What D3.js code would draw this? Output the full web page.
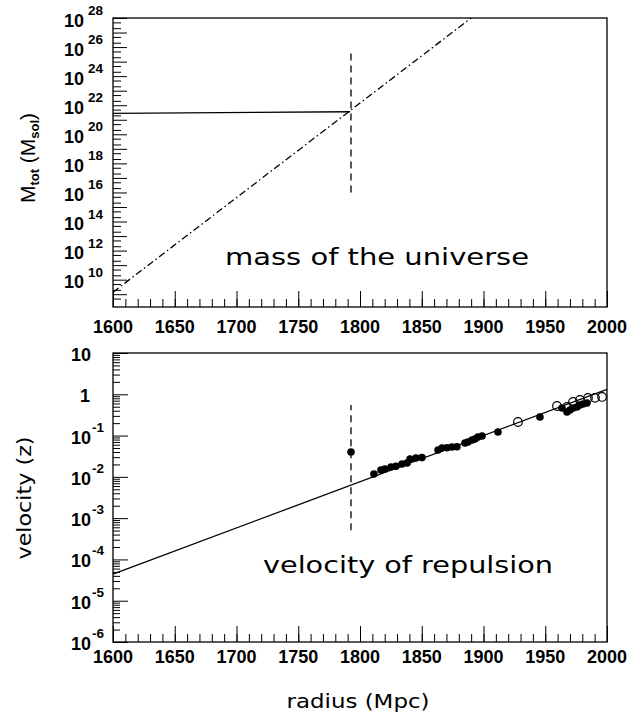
<!DOCTYPE html>
<html>
<head>
<meta charset="utf-8">
<script src="https://cdn.jsdelivr.net/npm/d3@7"></script>
<style>
  body { margin: 0; background: #fff; }
  text { fill: #000; }
</style>
</head>
<body>
<div id="chart"></div>
<script>
// tick labels
var radiusLabels = [1600, 1650, 1700, 1750, 1800, 1850, 1900, 1950, 2000];
var massExps = [10, 12, 14, 16, 18, 20, 22, 24, 26, 28];
var velExps = [1, 0, -1, -2, -3, -4, -5, -6];

// top panel: total mass (solid) and critical mass (dash-dot)
var massR = [1600, 1792];
var massTot = [2.75e21, 3.55e21];
var critR = [1600, 1890];
var critM = [1.38e9, 1e28];

// vertical dashed marker
var cutR = 1792.7;
var massCut = [1e16, 7.4e25];
var velCut = [5.1e-4, 0.55];

// bottom panel: fit line and measurements
var fitR = [1600, 2000];
var fitZ = [4.4e-5, 1.32];
var filledR = [1792.7, 1811.3, 1817.0, 1820.2, 1825.1, 1829.1, 1834.0, 1838.1, 1840.5, 1845.3, 1850.2,
               1863.2, 1866.4, 1870.4, 1874.5, 1878.5, 1885.0, 1887.4, 1890.7, 1893.1, 1895.5, 1898.8,
               1911.7, 1945.7, 1963.6, 1967.6, 1970.0, 1972.5, 1975.7, 1978.1, 1980.6, 1983.8];
var filledZ = [0.0401, 0.01175, 0.01469, 0.01552, 0.01738, 0.0180, 0.0205, 0.0217, 0.0271, 0.0287, 0.0293,
               0.0448, 0.0501, 0.0505, 0.0530, 0.0535, 0.0662, 0.0700, 0.0782, 0.0828, 0.0925, 0.0977,
               0.122, 0.282, 0.466, 0.372, 0.417, 0.466, 0.492, 0.551, 0.582, 0.615];
var openR = [1927.9, 1959.5, 1967.6, 1972.5, 1978.1, 1984.6, 1990.3, 1996.0];
var openZ = [0.213, 0.521, 0.492, 0.652, 0.728, 0.813, 0.82, 0.861];

var W = 630, H = 715;
var svg = d3.select("#chart").append("svg")
    .attr("width", W).attr("height", H)
    .style("font-family", "'Liberation Sans', Arial, sans-serif");

var x = d3.scaleLinear().domain([1600, 2000]).range([113, 607]);
var yTop = d3.scaleLog().domain([1.32e8, 1e28]).range([307, 18]);
var yBot = d3.scaleLog().domain([1e-6, 10]).range([642, 353]);

var roundFont = "'DejaVu Sans', 'Liberation Sans', sans-serif";

function frame(y) {
  var r = y.range();
  svg.append("rect")
      .attr("x", x(1600)).attr("y", r[1])
      .attr("width", x(2000) - x(1600)).attr("height", r[0] - r[1])
      .attr("fill", "none").attr("stroke", "#000").attr("stroke-width", 1.3);
}

function xAxis(y, labelY) {
  var base = y.range()[0];
  var major = svg.append("g").attr("transform", "translate(0," + base + ")")
      .call(d3.axisBottom(x).tickValues(radiusLabels).tickSize(-16).tickFormat(""));
  var minor = svg.append("g").attr("transform", "translate(0," + base + ")")
      .call(d3.axisBottom(x).tickValues(d3.range(1600, 2001, 10)).tickSize(-8).tickFormat(""));
  [major, minor].forEach(function(g) {
    g.select(".domain").remove();
    g.selectAll("line").attr("stroke", "#000").attr("stroke-width", 1);
  });
  svg.append("g").selectAll("text")
    .data(radiusLabels)
    .enter().append("text")
      .attr("x", function(d) { return x(d); })
      .attr("y", labelY)
      .attr("text-anchor", "middle")
      .style("font-size", "18px").style("font-weight", "bold")
      .text(function(d) { return d; });
}

function yTicks(y, majorVals, minorVals, majLen, minLen) {
  var left = x(1600);
  var g1 = svg.append("g").attr("transform", "translate(" + left + ",0)")
      .call(d3.axisLeft(y).tickValues(majorVals).tickSize(-majLen).tickFormat(""));
  var g2 = svg.append("g").attr("transform", "translate(" + left + ",0)")
      .call(d3.axisLeft(y).tickValues(minorVals).tickSize(-minLen).tickFormat(""));
  [g1, g2].forEach(function(g) {
    g.select(".domain").remove();
    g.selectAll("line").attr("stroke", "#000").attr("stroke-width", 1);
  });
}

// stretched plain label, like the wide round font of the original
function wideText(px, py, len, size, str, rot) {
  return svg.append("text")
      .attr("transform", "translate(" + px + "," + py + ")" + (rot ? " rotate(-90)" : ""))
      .attr("text-anchor", "middle")
      .attr("textLength", len).attr("lengthAdjust", "spacingAndGlyphs")
      .style("font-family", roundFont).style("font-size", size + "px")
      .text(str);
}

// ---------- top panel ----------
var topMajor = [], topMinor = [];
for (var e = 9; e <= 28; e++) {
  topMajor.push(Math.pow(10, e));
  if (e < 28) { topMinor.push(2 * Math.pow(10, e)); topMinor.push(5 * Math.pow(10, e)); }
}
topMinor.push(5e8);
yTicks(yTop, topMajor, topMinor, 14, 8);
frame(yTop);
xAxis(yTop, 333);

var massLab = svg.append("g").selectAll("g")
  .data(massExps).enter().append("g");
massLab.append("text")
    .attr("x", 84).attr("y", function(d) { return yTop(Math.pow(10, d)) + 8.5; })
    .attr("text-anchor", "end")
    .style("font-size", "18px").style("font-weight", "bold")
    .text("10");
massLab.append("text")
    .attr("x", 88).attr("y", function(d) { return yTop(Math.pow(10, d)) - 3; })
    .style("font-size", "13.5px").style("font-weight", "bold")
    .text(function(d) { return d; });

var lineTop = d3.line()
    .x(function(d) { return x(d[0]); })
    .y(function(d) { return yTop(d[1]); });

svg.append("path")
    .datum(d3.zip(massR, massTot))
    .attr("d", lineTop)
    .attr("fill", "none").attr("stroke", "#000").attr("stroke-width", 1.3);

svg.append("path")
    .datum(d3.zip(critR, critM))
    .attr("d", lineTop)
    .attr("fill", "none").attr("stroke", "#000").attr("stroke-width", 1.3)
    .attr("stroke-dasharray", "7,3,1.5,3");

svg.append("line")
    .attr("x1", x(cutR)).attr("x2", x(cutR))
    .attr("y1", yTop(massCut[0])).attr("y2", yTop(massCut[1]))
    .attr("stroke", "#000").attr("stroke-width", 1.3)
    .attr("stroke-dasharray", "7,5");

wideText(377, 265, 304, 23, "mass of the universe");

// y title top
var tTop = svg.append("text")
    .attr("transform", "translate(35,158) rotate(-90)")
    .attr("text-anchor", "middle")
    .style("font-size", "21px");
tTop.append("tspan").text("M");
tTop.append("tspan").attr("dy", 4).style("font-size", "13px").style("font-weight", "bold").text("tot");
tTop.append("tspan").attr("dy", -4).text(" (M");
tTop.append("tspan").attr("dy", 4).style("font-size", "13px").style("font-weight", "bold").text("sol");
tTop.append("tspan").attr("dy", -4).text(")");

// ---------- bottom panel ----------
var botMajor = [], botMinor = [];
for (var k = -6; k <= 1; k++) {
  botMajor.push(Math.pow(10, k));
  if (k < 1) for (var m = 2; m <= 9; m++) botMinor.push(m * Math.pow(10, k));
}
yTicks(yBot, botMajor, botMinor, 15, 7);
frame(yBot);
xAxis(yBot, 663);

var velLab = svg.append("g").selectAll("g")
  .data(velExps).enter().append("g");
velLab.append("text")
    .attr("x", function(d) { return d === 0 ? 90 : 91; })
    .attr("y", function(d) { return yBot(Math.pow(10, d)) + 8; })
    .attr("text-anchor", "end")
    .style("font-size", "18px").style("font-weight", "bold")
    .text(function(d) { return d === 0 ? "1" : "10"; });
velLab.filter(function(d) { return d < 0; }).append("text")
    .attr("x", 92).attr("y", function(d) { return yBot(Math.pow(10, d)) - 4; })
    .style("font-size", "13.5px").style("font-weight", "bold")
    .text(function(d) { return d; });

var lineBot = d3.line()
    .x(function(d) { return x(d[0]); })
    .y(function(d) { return yBot(d[1]); });

svg.append("path")
    .datum(d3.zip(fitR, fitZ))
    .attr("d", lineBot)
    .attr("fill", "none").attr("stroke", "#000").attr("stroke-width", 1.3);

svg.append("line")
    .attr("x1", x(cutR)).attr("x2", x(cutR))
    .attr("y1", yBot(velCut[0])).attr("y2", yBot(velCut[1]))
    .attr("stroke", "#000").attr("stroke-width", 1.3)
    .attr("stroke-dasharray", "7,5");

svg.append("g").selectAll("circle")
  .data(d3.zip(filledR, filledZ))
  .enter().append("circle")
    .attr("cx", function(d) { return x(d[0]); })
    .attr("cy", function(d) { return yBot(d[1]); })
    .attr("r", 3.8)
    .attr("fill", "#000");

svg.append("g").selectAll("circle")
  .data(d3.zip(openR, openZ))
  .enter().append("circle")
    .attr("cx", function(d) { return x(d[0]); })
    .attr("cy", function(d) { return yBot(d[1]); })
    .attr("r", 4.3)
    .attr("fill", "#fff").attr("fill-opacity", 0).attr("stroke", "#000").attr("stroke-width", 1.2);

wideText(408, 573, 290, 23, "velocity of repulsion");
wideText(31, 498, 123, 19, "velocity (z)", true);
wideText(358, 708, 143, 19, "radius (Mpc)");
</script>
</body>
</html>
